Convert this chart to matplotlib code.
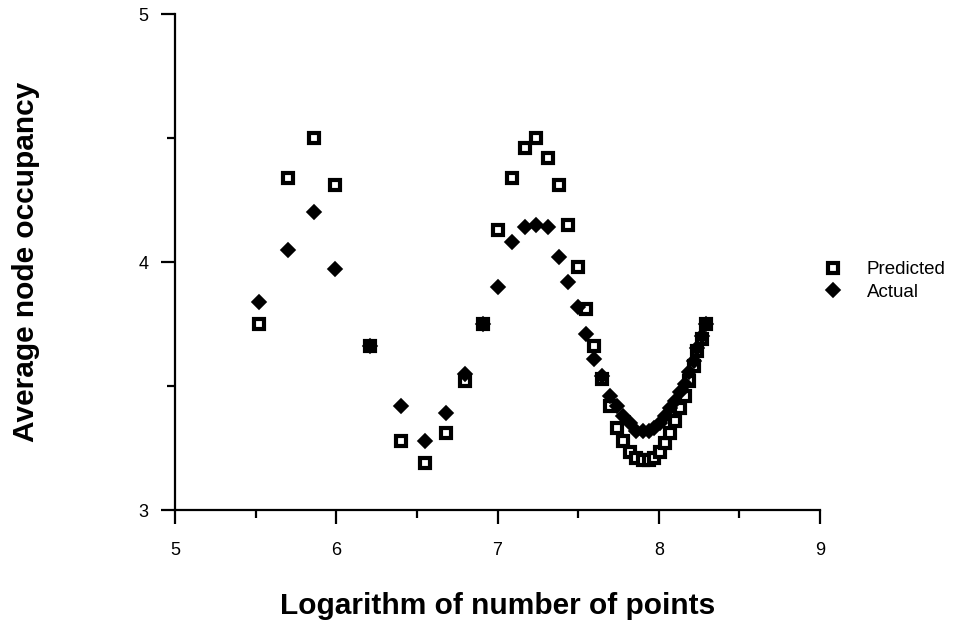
import matplotlib
matplotlib.use("Agg")
import matplotlib.pyplot as plt
from matplotlib.ticker import MultipleLocator

plt.rcParams['font.family'] = ['Liberation Sans', 'DejaVu Sans']

# x positions (log of number of points)
log_points = [5.52, 5.70, 5.86, 5.99, 6.21, 6.40, 6.55, 6.68, 6.80, 6.91,
              7.00, 7.09, 7.17, 7.24, 7.31, 7.38, 7.44, 7.50, 7.55, 7.60,
              7.65, 7.70, 7.74, 7.78, 7.82, 7.86, 7.90, 7.94, 7.97, 8.01,
              8.04, 8.07, 8.10, 8.13, 8.16, 8.19, 8.22, 8.24, 8.27, 8.29]

predicted = [3.75, 4.34, 4.50, 4.31, 3.66, 3.28, 3.19, 3.31, 3.52, 3.75,
             4.13, 4.34, 4.46, 4.50, 4.42, 4.31, 4.15, 3.98, 3.81, 3.66,
             3.53, 3.42, 3.33, 3.28, 3.235, 3.21, 3.20, 3.20, 3.21, 3.235,
             3.27, 3.31, 3.36, 3.41, 3.46, 3.52, 3.58, 3.64, 3.69, 3.75]

actual = [3.84, 4.05, 4.20, 3.97, 3.66, 3.42, 3.28, 3.39, 3.55, 3.75,
          3.90, 4.08, 4.14, 4.15, 4.14, 4.02, 3.92, 3.82, 3.71, 3.61,
          3.54, 3.46, 3.42, 3.38, 3.35, 3.32, 3.32, 3.32, 3.33, 3.35,
          3.38, 3.41, 3.44, 3.475, 3.51, 3.555, 3.60, 3.655, 3.70, 3.75]

fig = plt.figure(figsize=(9.67, 6.26), dpi=100)
ax = fig.add_axes([0.181, 0.1853, 0.667, 0.7923])

ax.plot(log_points, predicted, linestyle='none', marker='s', markersize=6.5,
        markerfacecolor='white', markeredgecolor='black', markeredgewidth=3,
        label='Predicted')
ax.plot(log_points, actual, linestyle='none', marker='D', markersize=7.3,
        markerfacecolor='black', markeredgecolor='black', markeredgewidth=1.2,
        label='Actual')

ax.set_xlim(5, 9)
ax.set_ylim(3, 5)
ax.xaxis.set_major_locator(MultipleLocator(1))
ax.xaxis.set_minor_locator(MultipleLocator(0.5))
ax.yaxis.set_major_locator(MultipleLocator(1))
ax.yaxis.set_minor_locator(MultipleLocator(0.5))

for side in ['top', 'right']:
    ax.spines[side].set_visible(False)
for side in ['left', 'bottom']:
    ax.spines[side].set_linewidth(1.6)

ax.tick_params(which='major', direction='out', length=10, width=1.6, labelsize=13)
ax.tick_params(axis='x', which='major', pad=13)
ax.tick_params(axis='y', which='major', pad=9)
ax.tick_params(which='minor', direction='out', length=6, width=1.6)

ax.set_xlabel('Logarithm of number of points', fontsize=21.5, fontweight='bold', labelpad=24)
ax.set_ylabel('Average node occupancy', fontsize=21.5, fontweight='bold', labelpad=71)

ax.legend(loc='upper left', bbox_to_anchor=(0.842, 0.583), bbox_transform=fig.transFigure,
          frameon=False, fontsize=13.5, handlelength=2.0, handletextpad=0.8,
          labelspacing=0.3, borderpad=0, borderaxespad=0)

fig.savefig('out.png', dpi=100)
